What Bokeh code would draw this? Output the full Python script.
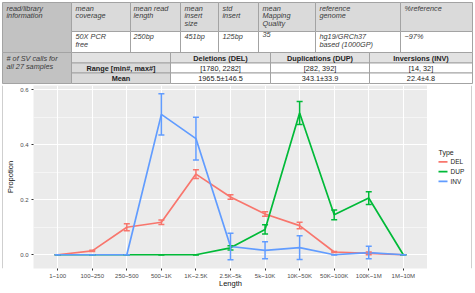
from bokeh.plotting import figure
from bokeh.layouts import column, row
from bokeh.models import (Range1d, FactorRange, FixedTicker, Whisker, TeeHead,
                          ColumnDataSource, PrintfTickFormatter)
from bokeh.core.properties import value
from bokeh.embed import file_html
from bokeh.resources import INLINE

# ---- data -------------------------------------------------------------
lengths = ["1~100", "100~250", "250~500", "500~1K", "1K~2.5K", "2.5K~5k",
           "5k~10K", "10K~50K", "50K~100K", "100K~1M", "1M~10M"]

del_mean = [0.0, 0.014, 0.100, 0.118, 0.293, 0.210, 0.148, 0.106, 0.010, 0.005, 0.0]
del_err = [0.0, 0.002, 0.013, 0.008, 0.016, 0.008, 0.008, 0.012, 0.002, 0.005, 0.0]
dup_mean = [0.0, 0.0, 0.0, 0.0, 0.0, 0.025, 0.092, 0.515, 0.145, 0.206, 0.0]
dup_err = [0.0, 0.0, 0.0, 0.0, 0.0, 0.008, 0.017, 0.042, 0.018, 0.023, 0.0]
inv_mean = [0.0, 0.0, 0.0, 0.510, 0.422, 0.030, 0.016, 0.026, 0.0, 0.008, 0.0]
inv_err = [0.0, 0.0, 0.0, 0.075, 0.078, 0.048, 0.031, 0.043, 0.0, 0.023, 0.0]

series_names = ["DEL", "DUP", "INV"]
series_colors = ["#F8766D", "#00BA38", "#619CFF"]

info_headers = ["mean\ncoverage", "mean read\nlength", "mean\ninsert\nsize",
                "std\ninsert", "mean\nMapping\nQuality", "reference\ngenome",
                "%reference"]
info_values = ["50X PCR\nfree", "250bp", "451bp", "125bp", "35",
               "hg19/GRCh37\nbased (1000GP)", "~97%"]
sv_headers = ["Deletions (DEL)", "Duplications (DUP)", "Inversions (INV)"]
sv_ranges = ["[1780, 2282]", "[282, 392]", "[14, 32]"]
sv_means = ["1965.5\u00b1146.5", "343.1\u00b133.9", "22.4\u00b14.8"]

FONT = value("Liberation Sans")
GRID_LINE = "#a3a3a3"
FRAME_LINE = "#a0a0a0"


def blank(width, height):
    f = figure(width=width, height=height, x_range=Range1d(0, width),
               y_range=Range1d(height, 0), output_backend="svg",
               toolbar_location=None, x_axis_location=None,
               y_axis_location=None, min_border=0)
    f.grid.visible = False
    f.outline_line_color = None
    f.background_fill_color = "white"
    f.border_fill_color = "white"
    return f


# ---- summary table ------------------------------------------------------
t = blank(475, 84)

info_cols = [71, 130, 180, 218, 258, 315, 400, 472]
sv_cols = [71, 170, 270, 369, 472]

cells = dict(left=[], right=[], top=[], bottom=[], fill=[])


def add_cell(l, r, top, bottom, fill):
    cells["left"].append(l)
    cells["right"].append(r)
    cells["top"].append(top)
    cells["bottom"].append(bottom)
    cells["fill"].append(fill)


add_cell(2, 71, 2, 52, "#c2c2c2")
add_cell(2, 71, 52, 83, "#c2c2c2")
for i in range(len(info_headers)):
    add_cell(info_cols[i], info_cols[i + 1], 2, 31, "#dadada")
    add_cell(info_cols[i], info_cols[i + 1], 31, 52, "#ffffff")
for i in range(4):
    add_cell(sv_cols[i], sv_cols[i + 1], 52, 62.5, "#e2e2e2")
add_cell(71, 170, 62.5, 72.5, "#dadada")
add_cell(71, 170, 72.5, 83, "#dadada")
for i in range(1, 4):
    add_cell(sv_cols[i], sv_cols[i + 1], 62.5, 72.5, "#ffffff")
    add_cell(sv_cols[i], sv_cols[i + 1], 72.5, 83, "#ffffff")

t.quad(left="left", right="right", top="top", bottom="bottom", fill_color="fill",
       line_color=GRID_LINE, line_width=1, source=ColumnDataSource(cells))

italic = dict(text_font=FONT, text_font_style="italic", text_font_size="7.3px",
              text_color="#3a3a3a", text_baseline="top", text_align="left",
              text_line_height=0.84)
bold = dict(text_font=FONT, text_font_style="bold", text_font_size="7.3px",
            text_color="#222222", text_baseline="middle", text_align="center")
plain = dict(text_font=FONT, text_font_style="normal", text_font_size="7.3px",
             text_color="#222222", text_baseline="middle", text_align="center")

pads = [4, 3, 4, 4, 4, 4, 4]
hx = [info_cols[i] + pads[i] for i in range(len(info_headers))]
t.text(x=[6], y=[3], text=["read/library\ninformation"], **italic)
t.text(x=hx, y=[3] * len(hx), text=info_headers, **italic)
t.text(x=hx, y=[31.5] * len(hx), text=info_values, **italic)
t.text(x=[6], y=[53.5], text=["# of SV calls for\nall 27 samples"], **italic)

sv_x = [(sv_cols[i] + sv_cols[i + 1]) / 2 for i in range(1, 4)]
t.text(x=sv_x, y=[57.5] * 3, text=sv_headers, **bold)
t.text(x=[120.5, 120.5], y=[67.7, 78], text=["Range [min#, max#]", "Mean"], **bold)
t.text(x=sv_x, y=[67.7] * 3, text=sv_ranges, **plain)
t.text(x=sv_x, y=[78] * 3, text=sv_means, **plain)

# ---- proportion by length chart ----------------------------------------
p = figure(width=424, height=206,
           x_range=FactorRange(factors=lengths, range_padding=0.2,
                               range_padding_units="absolute"),
           y_range=Range1d(-0.05, 0.615),
           output_backend="svg", toolbar_location=None,
           min_border_left=27, min_border_right=0, min_border_top=1,
           min_border_bottom=20)
p.background_fill_color = "#EBEBEB"
p.border_fill_color = "white"
p.outline_line_color = None

p.yaxis.ticker = FixedTicker(ticks=[0.0, 0.2, 0.4, 0.6], minor_ticks=[0.1, 0.3, 0.5])
p.yaxis.formatter = PrintfTickFormatter(format="%.1f")

p.xgrid.grid_line_color = "white"
p.xgrid.grid_line_width = 1.1
p.ygrid.grid_line_color = "white"
p.ygrid.grid_line_width = 1.1
p.ygrid.minor_grid_line_color = "white"
p.ygrid.minor_grid_line_width = 0.5

for ax in (p.xaxis, p.yaxis):
    ax.axis_line_color = None
    ax.major_tick_line_color = "#333333"
    ax.major_tick_out = 2
    ax.major_tick_in = 0
    ax.minor_tick_line_color = None
    ax.major_label_text_font = "Liberation Sans"
    ax.major_label_text_font_size = "6px"
    ax.major_label_text_color = "#4d4d4d"
    ax.major_label_standoff = 1
    ax.axis_label_text_font = "Liberation Sans"
    ax.axis_label_text_font_size = "7.5px"
    ax.axis_label_text_font_style = "normal"
    ax.axis_label_text_color = "#111111"
    ax.axis_label_standoff = 0

p.xaxis.major_label_standoff = 2
p.xaxis.axis_label_standoff = -3
p.yaxis.axis_label_standoff = 2
p.xaxis.axis_label = "Length"
p.yaxis.axis_label = "Propotion"

for name, color, mean, err in zip(series_names, series_colors,
                                  [del_mean, dup_mean, inv_mean],
                                  [del_err, dup_err, inv_err]):
    src = ColumnDataSource(dict(
        x=lengths, y=mean,
        upper=[m + e for m, e in zip(mean, err)],
        lower=[m - e for m, e in zip(mean, err)],
    ))
    p.line(x="x", y="y", source=src, line_color=color, line_width=1.7)
    w = Whisker(base="x", upper="upper", lower="lower", source=src,
                line_color=color, line_width=1.5, level="glyph",
                upper_head=TeeHead(size=6, line_color=color, line_width=1.5),
                lower_head=TeeHead(size=6, line_color=color, line_width=1.5))
    p.add_layout(w)

# ---- legend panel to the right of the chart -----------------------------
lg = blank(45, 206)
key_y = [86 + 11 * i for i in range(len(series_names))]
lg.text(x=[11], y=[75], text=["Type"], text_font=FONT, text_font_size="7px",
        text_color="#222222", text_baseline="middle", text_align="left")
lg.segment(x0=[11] * 3, x1=[20] * 3, y0=key_y, y1=key_y,
           line_color=series_colors, line_width=1.8)
lg.text(x=[23] * 3, y=key_y, text=series_names, text_font=FONT,
        text_font_size="6.5px", text_color="#222222", text_baseline="middle",
        text_align="left")
lg.quad(left=[44], right=[45], top=[0], bottom=[206], fill_color=FRAME_LINE,
        line_color=None)

# thin frame around the chart block
left_edge = blank(3, 206)
left_edge.quad(left=[2], right=[3], top=[0], bottom=[206], fill_color=FRAME_LINE,
               line_color=None)
right_edge = blank(3, 206)
bottom_edge = blank(475, 3)
bottom_edge.quad(left=[2], right=[473], top=[0], bottom=[1], fill_color=FRAME_LINE,
                 line_color=None)

layout = column(t, row(left_edge, p, lg, right_edge, spacing=0), bottom_edge,
                spacing=0)
open("out.html", "w").write(file_html(layout, INLINE))
